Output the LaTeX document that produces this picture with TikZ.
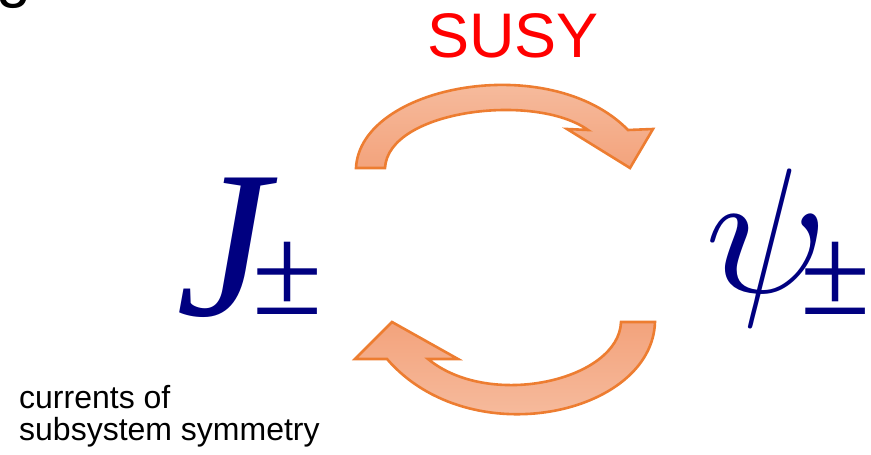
\documentclass[tikz,border=0pt]{standalone}
\usepackage{fontspec}
\setmainfont{Liberation Serif}
\setsansfont{Liberation Sans}
\usepackage{graphicx}
\usepackage{xcolor}
\definecolor{susyred}{RGB}{255,0,0}
\definecolor{fieldblue}{RGB}{0,0,128}
\definecolor{arrowline}{RGB}{237,125,49}
\definecolor{arrowlight}{RGB}{247,196,170}
\definecolor{arrowdark}{RGB}{243,163,124}
\tikzset{
  bentarrow/.style={draw=arrowline, line width=2.6pt, line join=miter},
  fieldsym/.style={inner sep=0pt, anchor=base west, text=fieldblue},
}

\begin{document}
\begin{tikzpicture}[x=1pt, y=-1pt]
  \useasboundingbox (0,0) rectangle (871,455);
  % cut-off letter at the top edge
  \node[inner sep=0pt, anchor=base west, font=\sffamily\fontsize{63}{63}\selectfont] (cut) at (-4,-5) {g};
  \node[inner sep=0pt, anchor=base west, text=susyred, font=\sffamily\fontsize{63}{63}\selectfont] (susy) at (427,57) {SUSY};
  % the two fields
  \node[fieldsym, font=\itshape\fontsize{210}{210}\selectfont] (J) at (176,315) {J};
  \node[fieldsym, font=\fontsize{128}{128}\selectfont] (Jpm) at (252,314) {±};
  \node[fieldsym] (psi) at (705,292) {\scalebox{17.8}{$\psi$}};
  \node[fieldsym, font=\fontsize{128}{128}\selectfont] (psipm) at (800,314) {±};
  \node[inner sep=0pt, anchor=base west, align=left, font=\sffamily\fontsize{32}{32}\selectfont] (note) at (19,440) {currents of\\subsystem symmetry};
  % upper arrow
  \path[bentarrow, top color=arrowlight, bottom color=arrowdark]
    (356,168) .. controls (360,85) and (550,50) .. (628,130)
    -- (653,129) -- (630,168) -- (567,129) -- (588,130)
    .. controls (535,92) and (388,110) .. (385,168) -- cycle;
  % lower arrow
  \path[bentarrow, top color=arrowdark, bottom color=arrowlight]
    (655,322) .. controls (652,415) and (470,455) .. (387,359)
    -- (355,359) -- (392,322) -- (458,359) -- (428,359)
    .. controls (490,410) and (619,380) .. (621,322) -- cycle;
\end{tikzpicture}
\end{document}
